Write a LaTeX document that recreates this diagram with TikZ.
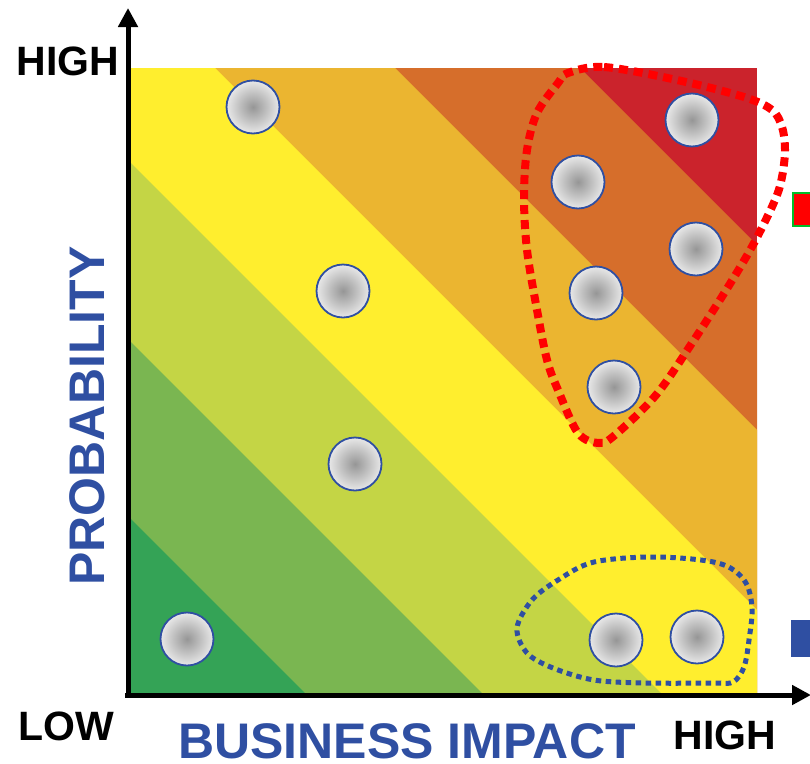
\documentclass[tikz,border=0pt]{standalone}
\usepackage{fontspec}
\setmainfont{Liberation Sans}
\usetikzlibrary{arrows.meta}
\definecolor{cDkGreen}{RGB}{52,163,86}
\definecolor{cGreen}{RGB}{122,182,81}
\definecolor{cYGreen}{RGB}{196,213,69}
\definecolor{cYellow}{RGB}{255,238,46}
\definecolor{cLtOrange}{RGB}{235,181,48}
\definecolor{cDkOrange}{RGB}{214,110,43}
\definecolor{cRed}{RGB}{203,35,44}
\definecolor{cBlue}{RGB}{47,79,162}
\definecolor{cLoopRed}{RGB}{255,0,0}
\definecolor{cBoxGreen}{RGB}{0,190,40}
\begin{document}
\begin{tikzpicture}[x=1pt,y=-1pt,
  risk/.style={circle,draw=cBlue,line width=1.8pt,minimum size=53pt,inner sep=0pt,
    inner color={rgb,255:red,150;green,150;blue,150},outer color={rgb,255:red,232;green,232;blue,232}},
  axis/.style={line width=5pt,-{Triangle[length=19pt,width=19pt]}},
  lbl/.style={font=\bfseries\fontsize{41}{41}\selectfont,inner sep=0pt,anchor=base},
  title/.style={font=\bfseries\fontsize{50}{50}\selectfont,text=cBlue,inner sep=0pt,anchor=base}]
\useasboundingbox (0,0) rectangle (810,763);
% bands
\begin{scope}
  \clip (130,68) rectangle (757,693);
  \fill[cRed] (130,68) rectangle (757,693);
  \foreach \c/\col in {1075/cDkOrange,890/cLtOrange,710/cYellow,531/cYGreen,352/cGreen,175/cDkGreen}{
    \fill[\col] (130,693) -- (130,693-\c) -- (130+\c,693) -- cycle;
  }
\end{scope}
% axes
\coordinate (o) at (128,697);
\coordinate (ytip) at (128,8);
\coordinate (ox) at (125,695);
\coordinate (xtip) at (811,695);
\draw[axis] (o) -- (ytip);
\draw[axis] (ox) -- (xtip);
% cut-off boxes at right
\draw[draw=cBoxGreen,line width=2pt,fill=cLoopRed] (793,193) rectangle (815,226);
\fill[cBlue] (791,620) rectangle (815,657);
% risk points
\node[risk] (c1) at (253,107) {};
\node[risk] (c2) at (343,291) {};
\node[risk] (c3) at (355,464) {};
\node[risk] (c4) at (187,639) {};
\node[risk] (c5) at (692,120) {};
\node[risk] (c6) at (578,182) {};
\node[risk] (c7) at (696,249) {};
\node[risk] (c8) at (596,293) {};
\node[risk] (c9) at (614,387) {};
\node[risk] (c10) at (616,640) {};
\node[risk] (c11) at (697,637) {};
% loops
\draw[cLoopRed,line width=8pt,dash pattern=on 9pt off 6pt]
  plot[smooth cycle,tension=0.55] coordinates {(568,73) (604,67) (677,80) (744,97) (772,110) (782,127) (785,150) (782,177) (775,200) (754,243) (728,287) (692,343) (656,395) (615,435) (599,443) (578,433) (558,390) (547,360) (537,310) (527,250) (524,197) (527,150) (537,113) (558,83)};
\draw[cBlue,line width=5pt,dash pattern=on 5.5pt off 4.5pt]
  plot[smooth cycle,tension=0.55] coordinates {(517,628) (532,600) (558,580) (594,562) (656,557) (718,563) (744,580) (752,607) (749,640) (744,667) (733,682) (713,683) (646,683) (594,680) (553,668) (527,653)};
% labels
\node[lbl] (hy) at (68,75) {HIGH};
\node[lbl] (lo) at (66,740) {LOW};
\node[lbl] (hx) at (725,749) {HIGH};
\node[title] (bi) at (407,758) {BUSINESS IMPACT};
\node[title,rotate=90] (pr) at (104,416) {PROBABILITY};
\end{tikzpicture}
\end{document}
